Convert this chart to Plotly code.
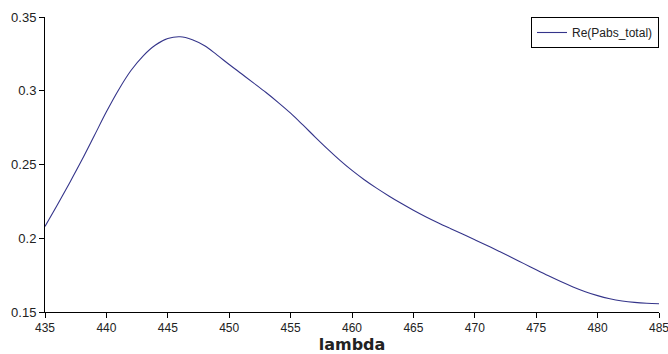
import plotly.graph_objects as go

wavelength = list(range(435, 486))
re_pabs_total = [
    0.2080, 0.2225, 0.2375, 0.2530, 0.2693, 0.2857, 0.3007, 0.3137, 0.3237, 0.3310,
    0.3354, 0.3366, 0.3346, 0.3305, 0.3243, 0.3178, 0.3115, 0.3052, 0.2988, 0.2920,
    0.2848, 0.2768, 0.2686, 0.2606, 0.2530, 0.2460, 0.2397, 0.2340, 0.2287, 0.2237,
    0.2190, 0.2146, 0.2105, 0.2066, 0.2028, 0.1990, 0.1951, 0.1911, 0.1870, 0.1828,
    0.1786, 0.1745, 0.1706, 0.1670, 0.1638, 0.1611, 0.1590, 0.1575, 0.1565, 0.1559,
    0.1556,
]
x_ticks = [435, 440, 445, 450, 455, 460, 465, 470, 475, 480, 485]
y_ticks = [0.15, 0.2, 0.25, 0.3, 0.35]
y_labels = ["0.15", "0.2", "0.25", "0.3", "0.35"]

fig = go.Figure()
fig.add_trace(go.Scatter(
    x=wavelength, y=re_pabs_total, mode="lines", name="Re(Pabs_total)",
    line=dict(color="#34348a", width=1.1, shape="spline", smoothing=1.0),
))

font_family = "Liberation Sans Narrow, Liberation Sans, Arial"
fig.update_layout(
    width=668, height=354,
    margin=dict(l=45, r=9, t=17, b=42, autoexpand=False),
    paper_bgcolor="white", plot_bgcolor="white",
    font=dict(family=font_family, size=13, color="#222"),
    showlegend=True,
    legend=dict(
        x=1, y=1, xanchor="right", yanchor="top",
        bordercolor="black", borderwidth=1, bgcolor="white",
        font=dict(size=12, family=font_family),
        itemwidth=30, tracegroupgap=0,
    ),
    xaxis=dict(
        range=[435, 485], tickvals=x_ticks, ticks="outside", ticklen=5,
        tickcolor="black", showline=True, linecolor="black", linewidth=1,
        showgrid=False, zeroline=False, ticklabeloverflow="allow",
        automargin=False,
        tickfont=dict(size=12),
        title=dict(text="<b>lambda</b>", font=dict(size=16, family="DejaVu Sans, Arial"), standoff=6),
    ),
    yaxis=dict(
        range=[0.15, 0.35], tickvals=y_ticks, ticktext=y_labels, ticks="outside",
        ticklen=5, tickcolor="black", showline=True, linecolor="black",
        linewidth=1, showgrid=False, zeroline=False, automargin=False,
    ),
)

fig.write_html("out.html")
